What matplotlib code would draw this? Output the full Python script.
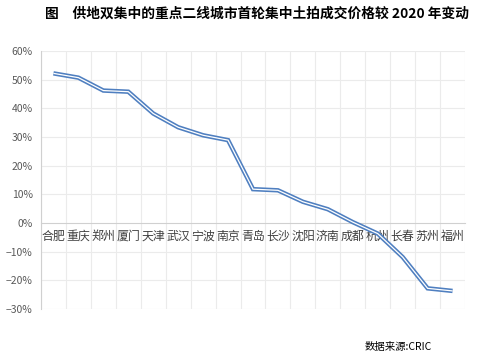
import matplotlib
matplotlib.use("Agg")
import matplotlib.pyplot as plt
import numpy as np

plt.rcParams['font.family'] = ['Noto Sans CJK SC', 'DejaVu Sans']
plt.rcParams['axes.unicode_minus'] = True

cities = ["合肥", "重庆", "郑州", "厦门", "天津", "武汉", "宁波", "南京", "青岛",
          "长沙", "沈阳", "济南", "成都", "杭州", "长春", "苏州", "福州"]
changes = [52.2, 50.7, 46.2, 45.8, 38.2, 33.4, 30.6, 28.9, 11.8,
           11.4, 7.4, 4.8, 0.3, -3.7, -11.9, -22.8, -23.7]
yticks = [60, 50, 40, 30, 20, 10, 0, -10, -20, -30]

fig = plt.figure(figsize=(4.89, 3.63), dpi=100)
ax = fig.add_axes([0.0838, 0.1488, 0.951 - 0.0838, 0.8595 - 0.1488])

for s in ['top', 'right']:
    ax.spines[s].set_visible(False)
ax.spines['left'].set_color('#d0d0d0')
ax.spines['bottom'].set_position(('data', 0))
ax.spines['bottom'].set_color('#d0d0d0')

x = np.arange(len(cities))
ax.plot(x, changes, color='#4f7fc0', lw=3.2, solid_capstyle='butt', solid_joinstyle='miter', zorder=3)
ax.plot(x, changes, color='white', lw=0.9, solid_capstyle='butt', solid_joinstyle='miter', zorder=4)

ax.set_xlim(-0.5, len(cities) - 0.5)
ax.set_ylim(-30, 60)
ax.set_yticks(yticks)
ax.set_yticklabels([f"{v}%".replace('-', '\u2212') for v in yticks])
ax.set_xticks(x)
ax.set_xticklabels(cities)
ax.tick_params(axis='both', which='both', length=0)
ax.tick_params(axis='x', pad=5, labelsize=8.6, labelcolor='#404040')
ax.tick_params(axis='y', pad=6, labelsize=7.5, labelcolor='#595959')

for yv in yticks:
    if yv != 0:
        ax.axhline(yv, color='#ebebeb', lw=0.8, zorder=1)
for xv in np.arange(-0.5, len(cities)):
    ax.axvline(xv, color='#ebebeb', lw=0.8, zorder=1)

fig.text(0.525, 0.962, "图　供地双集中的重点二线城市首轮集中土拍成交价格较 2020 年变动",
         ha='center', va='center', fontsize=9.9, fontweight='bold', color='black')
fig.text(0.745, 0.043, "数据来源:CRIC", ha='left', va='center', fontsize=7.5, color='black')

fig.savefig("out.png", dpi=100)
